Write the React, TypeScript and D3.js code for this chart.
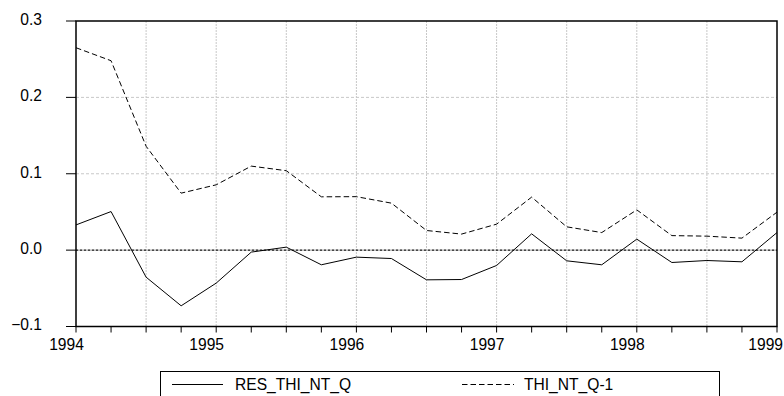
import React from "react";
import * as d3 from "d3";

const quarters: string[] = [
  "1994Q1","1994Q2","1994Q3","1994Q4","1995Q1","1995Q2","1995Q3","1995Q4",
  "1996Q1","1996Q2","1996Q3","1996Q4","1997Q1","1997Q2","1997Q3","1997Q4",
  "1998Q1","1998Q2","1998Q3","1998Q4","1999Q1",
];
const resThiNtQ: number[] = [
  0.033, 0.0505, -0.0354, -0.0729, -0.0432, -0.0026, 0.0039, -0.0192,
  -0.0092, -0.011, -0.0389, -0.0385, -0.0201, 0.0213, -0.014, -0.0192,
  0.0144, -0.0162, -0.0136, -0.0153, 0.023,
];
const thiNtQ1: number[] = [
  0.265, 0.248, 0.136, 0.0746, 0.0855, 0.110, 0.104, 0.0698,
  0.070, 0.0615, 0.0257, 0.021, 0.034, 0.0694, 0.0305, 0.023,
  0.0527, 0.019, 0.0183, 0.0157, 0.0497,
];
const yTicks: number[] = [-0.1, 0.0, 0.1, 0.2, 0.3];
const yearTicks: number[] = [1994, 1995, 1996, 1997, 1998, 1999];
const seriesNames: string[] = ["RES_THI_NT_Q", "THI_NT_Q-1"];

const toTime = (q: string) => +q.slice(0, 4) + (+q.slice(5) - 1) / 4;

export default function App() {
  const W = 784, H = 396;
  const left = 76, right = 777, top = 21, bottom = 326.5;
  const x = d3.scaleLinear().domain([1994, 1999]).range([left, right]);
  const y = d3.scaleLinear().domain([-0.1, 0.3]).range([bottom, top]);
  const font = "'Liberation Sans', Arial, sans-serif";
  const fs = 15.6;

  const line = d3
    .line<number>()
    .x((_, i) => x(toTime(quarters[i])))
    .y((d) => y(d));

  const halfYears = d3.range(1994.5, 1999, 0.5);
  const qTicks = quarters.map(toTime);
  const fmt = d3.format(".1f");

  return (
    <svg
      width={W}
      height={H}
      style={{ position: "absolute", left: 0, top: 0, display: "block", background: "#fff" }}
      fontFamily={font}
    >
      {/* grid */}
      {halfYears.map((t) => (
        <line key={"v" + t} x1={x(t)} x2={x(t)} y1={top} y2={bottom}
          stroke="#c8c8c8" strokeWidth={1} strokeDasharray="2,1" />
      ))}
      {yTicks.filter((v) => v > -0.1 && v < 0.3 && Math.abs(v) > 1e-9).map((v) => (
        <line key={"h" + v} x1={left} x2={right} y1={y(v)} y2={y(v)}
          stroke="#c8c8c8" strokeWidth={1} strokeDasharray="3,2" />
      ))}
      {/* zero line */}
      <line x1={left} x2={right} y1={y(0)} y2={y(0)} stroke="#9a9a9a" strokeWidth={1} />
      <line x1={left} x2={right} y1={y(0)} y2={y(0)} stroke="#000" strokeWidth={1} strokeDasharray="2,2" />

      {/* series */}
      <path d={line(thiNtQ1) || ""} fill="none" stroke="#000" strokeWidth={1} strokeDasharray="5.5,3" />
      <path d={line(resThiNtQ) || ""} fill="none" stroke="#000" strokeWidth={1} />

      {/* frame */}
      <rect x={left} y={top} width={right - left} height={bottom - top} fill="none" stroke="#000" strokeWidth={1.5} />

      {/* y axis ticks and labels */}
      {yTicks.map((v) => (
        <g key={"yt" + v}>
          <line x1={left - 10} x2={left} y1={y(v)} y2={y(v)} stroke="#000" strokeWidth={1} />
          <text x={42} y={y(v) + 3.8} textAnchor="end" fontSize={fs} fill="#000">{fmt(v)}</text>
        </g>
      ))}

      {/* x axis ticks */}
      {qTicks.map((t) => (
        <line key={"xt" + t} x1={x(t)} x2={x(t)} y1={bottom} y2={bottom + 6} stroke="#000" strokeWidth={1} />
      ))}
      {yearTicks.map((yr, i) =>
        i === yearTicks.length - 1 ? (
          <text key={"yl" + yr} x={783} y={350} textAnchor="end" fontSize={fs} fill="#000">{yr}</text>
        ) : (
          <text key={"yl" + yr} x={x(yr) - 9.5} y={350} textAnchor="middle" fontSize={fs} fill="#000">{yr}</text>
        )
      )}

      {/* legend */}
      <rect x={160.5} y={371.5} width={559} height={40} fill="#fff" stroke="#000" strokeWidth={1} />
      <line x1={172} x2={223} y1={384.5} y2={384.5} stroke="#000" strokeWidth={1} />
      <text x={235} y={390} fontSize={fs} fill="#000">{seriesNames[0]}</text>
      <line x1={462} x2={514} y1={384.5} y2={384.5} stroke="#000" strokeWidth={1} strokeDasharray="5.5,3" />
      <text x={524} y={390} fontSize={fs} fill="#000">{seriesNames[1]}</text>
    </svg>
  );
}
